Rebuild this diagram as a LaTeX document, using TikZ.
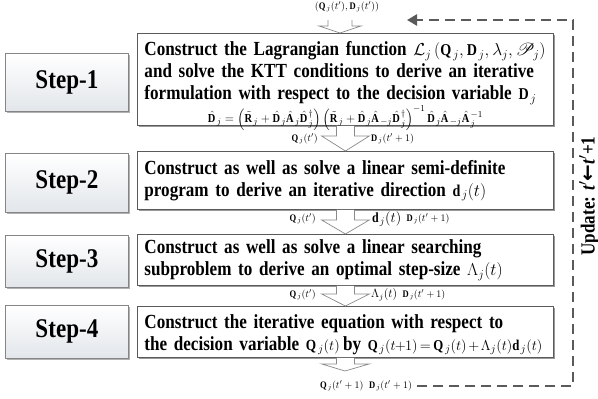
\documentclass[tikz,border=0pt]{standalone}
\usepackage{amsmath}
\usepackage{mathrsfs}
\usepackage{fontspec}
\setmainfont{Liberation Serif}[FakeStretch=0.855]
\newfontfamily\arrowfont{DejaVu Sans}
\usetikzlibrary{calc,shadows,arrows.meta}
\definecolor{boxline}{HTML}{5A5A5A}
\definecolor{stepline}{HTML}{858585}
\definecolor{stepbot}{HTML}{E2E6EA}
\definecolor{dashc}{HTML}{5A5A5A}
\definecolor{arrline}{HTML}{8A8A8A}
\newcommand{\mth}[1]{{\fontsize{16.5}{22}\selectfont$#1$}}
\newcommand{\harr}[5]{%
  \draw[harrow] ($(#1)+(-#3,0)$) -- ($(#1)+(-#3,-#5)$) -- ($(#1)+(-#4,-#5)$) -- (#2)
    -- ($(#1)+(#4,-#5)$) -- ($(#1)+(#3,-#5)$) -- ($(#1)+(#3,0)$);}
\tikzset{
  mainbox/.style={draw=boxline, line width=0.9pt, fill=white, anchor=north west,
    text width=402pt, inner xsep=7pt, inner ysep=0pt, align=left,
    font=\fontsize{20}{22}\selectfont\bfseries,
    drop shadow={shadow xshift=1.8pt, shadow yshift=-1.8pt, fill=black!40, opacity=1}},
  stepbox/.style={draw=stepline, line width=0.8pt, top color=white, bottom color=stepbot,
    anchor=north west, minimum width=123pt, inner sep=0pt,
    font=\fontsize{27}{30}\selectfont\bfseries,
    drop shadow={shadow xshift=1.5pt, shadow yshift=-1.5pt, fill=black!30, opacity=1}},
  harrow/.style={draw=arrline, fill=white, line width=0.7pt, line join=miter},
  lbl/.style={font=\fontsize{10}{12}\selectfont, inner sep=0pt},
  loopline/.style={draw=dashc, line width=2.6pt, dash pattern=on 10pt off 6pt},
}
\begin{document}
\begin{tikzpicture}[x=1pt,y=1pt]
\useasboundingbox (0,0) rectangle (598,-399);
% main boxes
\node[mainbox, text height=22pt, text depth=70pt] (b1) at (137,-33) {Construct the Lagrangian function \mth{\mathcal{L}_j\left(\mathbf{Q}_j,\mathbf{D}_j,\lambda_j,\mathscr{P}_j\right)}\\
and solve the KTT conditions to derive an iterative\\
formulation with respect to the decision variable \mth{\mathbf{D}_j}\\[1pt]
\makebox[402pt]{\fontsize{12.2}{13}\selectfont$\hat{\mathbf{D}}_j=\left(\tilde{\mathbf{R}}_j+\hat{\mathbf{D}}_j\hat{\mathbf{A}}_j\hat{\mathbf{D}}_j^{\dagger}\right)\left(\tilde{\mathbf{R}}_j+\hat{\mathbf{D}}_j\hat{\mathbf{A}}_{-j}\hat{\mathbf{D}}_j^{\dagger}\right)^{-1}\hat{\mathbf{D}}_j\hat{\mathbf{A}}_{-j}\hat{\mathbf{A}}_j^{-1}$}};
\node[mainbox, minimum height=58pt] (b2) at (137,-151) {Construct as well as solve a linear semi-definite\\
program to derive an iterative direction \mth{\mathbf{d}_j(t)}};
\node[mainbox, minimum height=51pt] (b3) at (137,-234) {Construct as well as solve a linear searching\\
subproblem to derive an optimal step-size \mth{\Lambda_j(t)}};
\node[mainbox, minimum height=51pt] (b4) at (137,-306) {\rule{0pt}{19pt}Construct the iterative equation with respect to\\
\mbox{the decision variable {\fontsize{15.5}{22}\selectfont$\mathbf{Q}_j(t)$}\,by {\fontsize{15}{22}\selectfont\medmuskip=2mu\thickmuskip=3mu$\mathbf{Q}_j(t\!+\!1)=\mathbf{Q}_j(t)+\Lambda_j(t)\mathbf{d}_j(t)$}}};
% step boxes
\node[stepbox, minimum height=58pt] (s1) at (5,-53) {Step-1};
\node[stepbox, minimum height=59pt] (s2) at (5,-153) {Step-2};
\node[stepbox, minimum height=52pt] (s3) at (5,-235) {Step-3};
\node[stepbox, minimum height=53pt] (s4) at (5,-305) {Step-4};
% hollow arrows
\coordinate (in0) at (340,-20);
\coordinate (tip0) at (340,-33);
\coordinate (tip4) at (345,-371);
\harr{in0}{tip0}{12}{21}{6}
\harr{b1.south}{b2.north}{9}{24}{10}
\harr{b2.south}{b3.north}{9}{24}{10}
\harr{b3.south}{b4.north}{9}{24}{8}
\harr{b4.south}{tip4}{9}{24}{6}
% labels
\node[lbl] (l0) at (347,-7) {$(\mathbf{Q}_j(t'),\mathbf{D}_j(t'))$};
\node[lbl, anchor=east] (l1a) at (318,-139) {$\mathbf{Q}_j(t')$};
\node[lbl, anchor=west] (l1b) at (371,-139) {$\mathbf{D}_j(t'+1)$};
\node[lbl, anchor=east] (l2a) at (316,-219) {$\mathbf{Q}_j(t')$};
\node[lbl, anchor=west, font=\fontsize{14}{16}\selectfont] (l2b) at (372,-219) {$\mathbf{d}_j(t)$};
\node[lbl, anchor=west] (l2c) at ($(l2b.east)+(5,0)$) {$\mathbf{D}_j(t'+1)$};
\node[lbl, anchor=east] (l3a) at (316,-295) {$\mathbf{Q}_j(t')$};
\node[lbl, anchor=west, font=\fontsize{11.5}{13}\selectfont] (l3b) at (371,-295) {$\Lambda_j(t)$};
\node[lbl, anchor=west] (l3c) at ($(l3b.east)+(5,0)$) {$\mathbf{D}_j(t'+1)$};
\node[lbl] (l4) at (366,-386) {$\mathbf{Q}_j(t'+1)\;\;\mathbf{D}_j(t'+1)$};
% loop
\coordinate (c1) at (573,-386);
\coordinate (c2) at (573,-20);
\coordinate (c3) at (407,-20);
\draw[loopline, -{Triangle[length=10pt,width=11pt]}] ($(l4.east)+(5,0)$) -- (c1) -- (c2) -- (c3);
\node[rotate=90, inner sep=0pt, font=\fontsize{20}{22}\selectfont\bfseries] (upd) at (589,-196) {Update: \textit{t}$'${\arrowfont\bfseries ←}\textit{t}$'$+1};
\end{tikzpicture}
\end{document}
